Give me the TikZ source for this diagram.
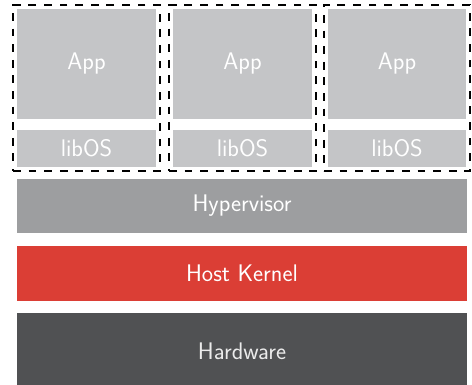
\documentclass[tikz,border=0pt]{standalone}
\usepackage{fontspec}
\usetikzlibrary{fit}
\definecolor{appgray}{RGB}{196,197,199}
\definecolor{hypgray}{RGB}{157,158,160}
\definecolor{kernred}{RGB}{219,62,53}
\definecolor{hwgray}{RGB}{80,81,83}
\tikzset{
  layer/.style={rectangle, anchor=north west, inner sep=0pt, outer sep=0pt,
    text=white, font=\sffamily\fontsize{24}{28}\selectfont},
  appbox/.style={layer, fill=appgray, minimum width=139pt, minimum height=110pt},
  libbox/.style={layer, fill=appgray, minimum width=139pt, minimum height=37pt},
  wide/.style={layer, minimum width=450pt},
  dashbox/.style={rectangle, draw=black, line width=2.4pt, dash pattern=on 7.8pt off 7.8pt, inner sep=4pt}
}
\begin{document}
\begin{tikzpicture}[x=1pt,y=-1pt]
\useasboundingbox (0,0) rectangle (472,384);
\clip (0,0) rectangle (472,384);
\node[appbox] (app1) at (17,9) {App};
\node[appbox] (app2) at (173,9) {App};
\node[appbox, minimum width=138pt] (app3) at (328,9) {App};
\node[libbox] (lib1) at (17,130) {libOS};
\node[libbox] (lib2) at (173,130) {libOS};
\node[libbox, minimum width=138pt] (lib3) at (328,130) {libOS};
\node[dashbox, fit=(app1)(lib1)] (vm1) {};
\node[dashbox, fit=(app2)(lib2)] (vm2) {};
\node[dashbox, fit=(app3)(lib3)] (vm3) {};
\node[wide, fill=hypgray, minimum height=54pt] (hyp) at (17,179) {Hypervisor};
\node[wide, fill=kernred, minimum height=55pt] (kern) at (17,246) {Host Kernel};
\node[wide, fill=hwgray, minimum height=77pt, text=white!92!black] (hw) at (17,313) {Hardware};
\end{tikzpicture}
\end{document}
